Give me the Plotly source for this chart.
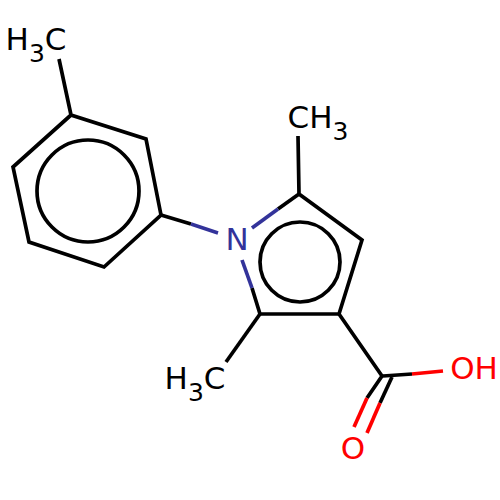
import plotly.graph_objects as go

# Bond segments, None breaks the line
black_x = [59, 71, 146, 161, 104, 29, 13, 71, None, 161, 191, None, 298, 299, 362, 339, 260, 252, None,
           299, 278, None, 260, 226, None, 339, 382, 367, None, 392, 380, None, 383, 412]
black_y = [59, 115, 139, 215, 267, 242, 167, 115, None, 215, 224, None, 136, 194, 240, 314, 314, 288, None,
           194, 209, None, 314, 362, None, 314, 376, 398, None, 377, 403, None, 376, 374]
blue_x = [191, 218, None, 252, 278, None, 242, 252]
blue_y = [224, 233, None, 228, 209, None, 260, 288]
red_x = [367, 354, None, 380, 367, None, 412, 443]
red_y = [398, 427, None, 403, 433, None, 374, 371]

# Aromatic rings
ring_x = [88, 300]
ring_y = [191, 262]
ring_d = [102, 80]

# Atom labels
sub3 = "<sub><span style='font-size:25px;baseline-shift:-6px'>3</span></sub>"
label_text = ["H" + sub3 + "C", "CH" + sub3, "N", "H" + sub3 + "C", "OH", "O"]
label_x = [36, 318, 237, 195, 474, 353]
label_y = [42, 120, 242, 381, 371, 451]
label_color = ["#000000", "#000000", "#33339a", "#000000", "#ff0000", "#ff0000"]

fig = go.Figure()
for xs, ys, col in [(black_x, black_y, "#000000"), (blue_x, blue_y, "#33339a"), (red_x, red_y, "#ff0000")]:
    fig.add_trace(go.Scatter(x=xs, y=ys, mode="lines", line=dict(color=col, width=3.7)))

fig.add_trace(go.Scatter(
    x=ring_x, y=ring_y, mode="markers",
    marker=dict(symbol="circle-open", size=ring_d, color="#000000", opacity=1, line=dict(color="#000000", width=3.7)),
))
fig.add_trace(go.Scatter(
    x=label_x, y=label_y, mode="text", text=label_text,
    textfont=dict(family="DejaVu Sans", size=31, color=label_color),
    textposition="middle center",
))

fig.update_layout(
    width=500, height=500, margin=dict(l=0, r=0, t=0, b=0),
    paper_bgcolor="white", plot_bgcolor="white", showlegend=False,
    xaxis=dict(range=[0, 500], visible=False),
    yaxis=dict(range=[500, 0], visible=False),
)
# page margin would push the plot 8px off
fig.write_html("out.html", config={"displayModeBar": False}, post_script="document.body.style.margin='0';")
